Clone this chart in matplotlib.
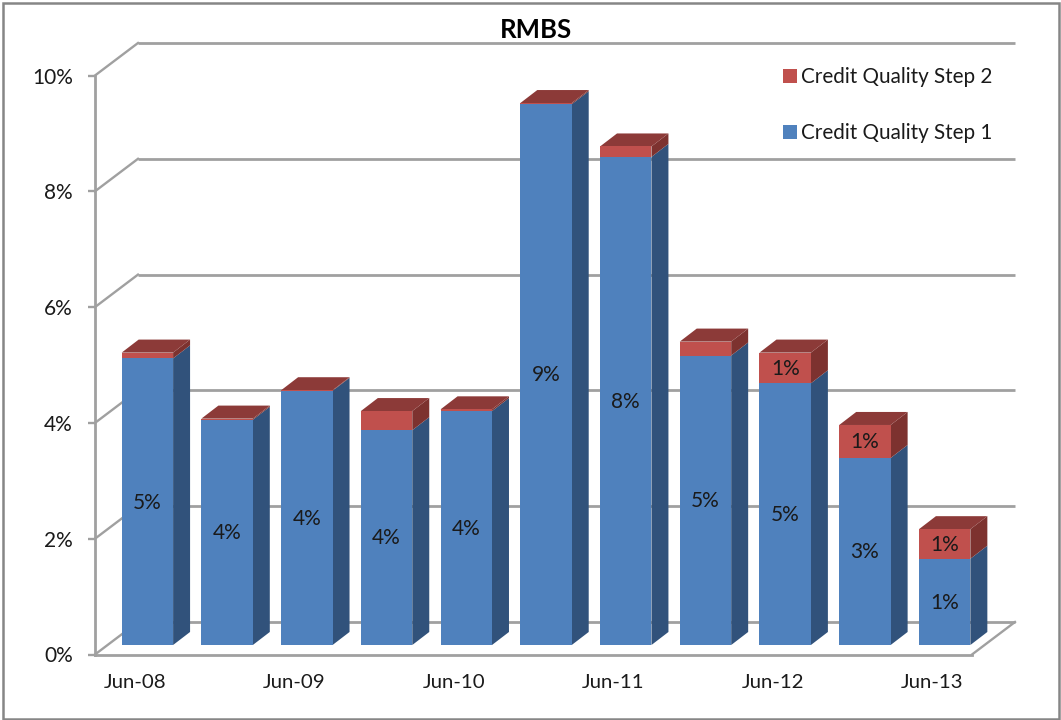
import numpy as np
import matplotlib
matplotlib.use('Agg')
import matplotlib.pyplot as plt
from matplotlib.patches import Rectangle

plt.rcParams['font.family'] = ['Lato', 'DejaVu Sans']

# values, in percent
x_labels = ['Jun-08', 'Jun-09', 'Jun-10', 'Jun-11', 'Jun-12', 'Jun-13']
step1 = [4.95, 3.89, 4.39, 3.71, 4.04, 9.34, 8.43, 5.00, 4.52, 3.23, 1.49]
step2 = [0.10, 0.02, 0.01, 0.33, 0.03, 0.02, 0.18, 0.24, 0.53, 0.57, 0.51]
y_ticks = [0, 2, 4, 6, 8, 10]

# 3d look, all in data units
wall_dx, wall_dy = 0.539, 0.561
bar_dx, bar_dy = 0.213, 0.225
bar_width = 0.645
bar_shift = 0.157
base = 0.164
label_lift = 0.02

BLUE, BLUE_SIDE = '#4F81BD', '#31527B'
RED, RED_SIDE, RED_TOP = '#C0504D', '#7D322F', '#8C3A38'
GRID = '#A0A0A0'
TEXT = '#1A1A1A'

W, H = 1061, 720
fig = plt.figure(figsize=(W/100, H/100), dpi=100)
ax = fig.add_axes([95/W, 1-654.5/H, 877/W, 579/H])
ax.set_xlim(0, 11)
ax.set_ylim(0, 10)

# outer frame of the chart
fig.add_artist(Rectangle((3/W, 1/H), 1056/W, 716/H, transform=fig.transFigure,
                         fill=False, edgecolor='#868686', linewidth=1.8))

# back wall, left wall and floor
for v in y_ticks:
    ax.plot([wall_dx, 11+wall_dx], [v+wall_dy, v+wall_dy], color=GRID, lw=2.0,
            clip_on=False, zorder=1, solid_capstyle='butt')
    ax.plot([0, wall_dx], [v, v+wall_dy], color=GRID, lw=1.7,
            clip_on=False, zorder=1)
ax.plot([11, 11+wall_dx], [0, wall_dy], color=GRID, lw=1.7, clip_on=False, zorder=1)

x = np.arange(11) + 0.5 + bar_shift
s1 = np.array(step1)
s2 = np.array(step2)

b1 = ax.bar(x, s1, bar_width, bottom=base, color=BLUE, zorder=4,
            label='Credit Quality Step 1')
b2 = ax.bar(x, s2, bar_width, bottom=base+s1, color=RED, zorder=4,
            label='Credit Quality Step 2')

for i in range(11):
    left = x[i] - bar_width/2
    right = x[i] + bar_width/2
    y1 = base + s1[i]
    y2 = y1 + s2[i]
    # side faces
    ax.fill([right, right+bar_dx, right+bar_dx, right],
            [base, base+bar_dy, y1+bar_dy, y1], color=BLUE_SIDE, lw=0, zorder=3, clip_on=False)
    ax.fill([right, right+bar_dx, right+bar_dx, right],
            [y1, y1+bar_dy, y2+bar_dy, y2], color=RED_SIDE, lw=0, zorder=3, clip_on=False)
    # top face
    ax.fill([left, right, right+bar_dx, left+bar_dx],
            [y2, y2, y2+bar_dy, y2+bar_dy], color=RED_TOP, lw=0, zorder=3, clip_on=False)
    # labels
    ax.text(x[i], base+s1[i]/2+label_lift, f'{s1[i]:.0f}%', ha='center', va='center_baseline',
            fontsize=15, color=TEXT, zorder=5)
    if s2[i] >= 0.5:
        ax.text(x[i], y1+s2[i]/2+label_lift, f'{s2[i]:.0f}%', ha='center', va='center_baseline',
                fontsize=15, color=TEXT, zorder=5)

for side in ['top', 'right']:
    ax.spines[side].set_visible(False)
for side in ['left', 'bottom']:
    ax.spines[side].set_color(GRID)
    ax.spines[side].set_linewidth(2.0)

ax.set_yticks(y_ticks)
ax.set_yticklabels([f'{v}%' for v in y_ticks], fontsize=15, color=TEXT, va='center_baseline')
ax.tick_params(axis='y', length=5, width=1.7, color=GRID, pad=11)
ax.set_xticks(np.arange(0, 11, 2) + 0.5)
ax.set_xticklabels(x_labels, fontsize=14.7, color=TEXT)
ax.tick_params(axis='x', length=0, pad=14)

ax.set_title('RMBS', fontsize=18.5, fontweight='bold', color='black', x=0.503, pad=27)

ax.legend([b2, b1], ['Credit Quality Step 2', 'Credit Quality Step 1'],
          loc='upper left', bbox_to_anchor=(783/W, 1-67/H), bbox_transform=fig.transFigure,
          frameon=False, fontsize=14.9, labelcolor=TEXT, handlelength=0.67, handleheight=0.67,
          handletextpad=0.2, labelspacing=1.75, borderpad=0, borderaxespad=0)

fig.savefig('out.png', dpi=100)
